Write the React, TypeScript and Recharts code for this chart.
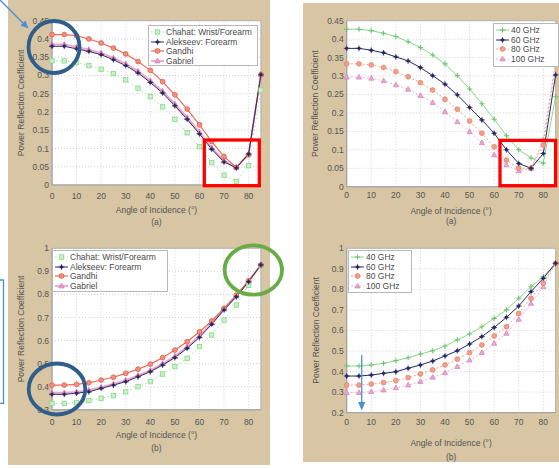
import React from 'react';
import { LineChart, Line, XAxis, YAxis, CartesianGrid, Legend, Label, ReferenceArea } from 'recharts';

const FONT = '"Liberation Sans", Arial, sans-serif';
const BEIGE = '#d7c5a3';
const TXT = '#555';

const angles = [0, 5, 10, 15, 20, 25, 30, 35, 40, 45, 50, 55, 60, 65, 70, 75, 80, 85];
const xTicks = [0, 10, 20, 30, 40, 50, 60, 70, 80];
const yTicksTop = [0, 0.05, 0.1, 0.15, 0.2, 0.25, 0.3, 0.35, 0.4, 0.45];
const yTicksBL = [0.3, 0.4, 0.5, 0.6, 0.7, 0.8, 0.9, 1];
const yTicksBR = [0.2, 0.3, 0.4, 0.5, 0.6, 0.7, 0.8, 0.9, 1];

const tissueNames = ['Chahat: Wrist/Forearm', 'Alekseev: Forearm', 'Gandhi', 'Gabriel'];
const freqNames = ['40 GHz', '60 GHz', '80 GHz', '100 GHz'];

// (a) left: reflection vs angle, tissue models
const chahatA = [0.34, 0.34, 0.336, 0.327, 0.317, 0.305, 0.288, 0.265, 0.242, 0.214, 0.18, 0.143, 0.105, 0.061, 0.027, 0.009, 0.053, 0.26];
const alekseevA = [0.38, 0.38, 0.373, 0.366, 0.357, 0.343, 0.327, 0.307, 0.281, 0.252, 0.217, 0.18, 0.14, 0.098, 0.063, 0.047, 0.085, 0.302];
const gandhiA = [0.412, 0.412, 0.409, 0.4, 0.389, 0.375, 0.359, 0.338, 0.314, 0.283, 0.247, 0.208, 0.165, 0.119, 0.078, 0.048, 0.083, 0.302];
const gabrielA = [0.385, 0.385, 0.378, 0.371, 0.362, 0.348, 0.332, 0.312, 0.286, 0.257, 0.222, 0.185, 0.145, 0.102, 0.066, 0.048, 0.086, 0.303];

// (a) right: reflection vs angle, frequencies
const ghz40A = [0.427, 0.427, 0.423, 0.416, 0.407, 0.393, 0.377, 0.357, 0.333, 0.301, 0.265, 0.225, 0.183, 0.138, 0.1, 0.078, 0.064, 0.244];
const ghz60A = [0.375, 0.375, 0.37, 0.363, 0.352, 0.341, 0.323, 0.301, 0.278, 0.249, 0.215, 0.181, 0.145, 0.1, 0.063, 0.05, 0.09, 0.303];
const ghz80A = [0.333, 0.333, 0.33, 0.323, 0.312, 0.298, 0.282, 0.262, 0.237, 0.21, 0.178, 0.145, 0.108, 0.072, 0.05, 0.05, 0.113, 0.334];
const ghz100A = [0.297, 0.297, 0.294, 0.287, 0.276, 0.264, 0.247, 0.228, 0.203, 0.176, 0.149, 0.119, 0.086, 0.059, 0.043, 0.05, 0.127, 0.343];

// (b) left
const chahatB = [0.328, 0.328, 0.331, 0.34, 0.35, 0.361, 0.378, 0.4, 0.422, 0.455, 0.487, 0.523, 0.574, 0.624, 0.689, 0.754, 0.84, 0.925];
const alekseevB = [0.367, 0.367, 0.372, 0.378, 0.393, 0.407, 0.422, 0.443, 0.465, 0.494, 0.526, 0.567, 0.614, 0.671, 0.733, 0.79, 0.855, 0.928];
const gandhiB = [0.407, 0.407, 0.41, 0.417, 0.429, 0.441, 0.458, 0.476, 0.498, 0.526, 0.559, 0.595, 0.638, 0.685, 0.74, 0.797, 0.86, 0.928];
const gabrielB = [0.374, 0.374, 0.378, 0.385, 0.398, 0.412, 0.428, 0.449, 0.471, 0.5, 0.532, 0.573, 0.62, 0.676, 0.737, 0.793, 0.857, 0.928];

// (b) right
const ghz40B = [0.427, 0.427, 0.432, 0.44, 0.453, 0.467, 0.485, 0.501, 0.524, 0.554, 0.583, 0.618, 0.659, 0.7, 0.757, 0.813, 0.862, 0.927];
const ghz60B = [0.378, 0.378, 0.383, 0.391, 0.399, 0.416, 0.432, 0.451, 0.476, 0.501, 0.534, 0.57, 0.614, 0.664, 0.719, 0.789, 0.854, 0.927];
const ghz80B = [0.334, 0.334, 0.339, 0.346, 0.356, 0.37, 0.388, 0.408, 0.432, 0.46, 0.492, 0.529, 0.573, 0.618, 0.683, 0.757, 0.83, 0.927];
const ghz100B = [0.297, 0.297, 0.302, 0.31, 0.321, 0.334, 0.351, 0.372, 0.394, 0.424, 0.456, 0.492, 0.537, 0.586, 0.654, 0.732, 0.813, 0.927];

type SStyle = {
  key: string;
  stroke: string;
  width: number;
  dash?: string;
  marker: string;
  mFill: string;
  mStroke: string;
};

const tissueStyles: SStyle[] = [
  { key: 's0', stroke: '#a4e2a4', width: 1, dash: '1.5 2.5', marker: 'square', mFill: '#c8f1c8', mStroke: '#8cd78c' },
  { key: 's1', stroke: '#262a66', width: 1, marker: 'star', mFill: '#262a66', mStroke: '#262a66' },
  { key: 's2', stroke: '#ee6a56', width: 1.2, marker: 'circle', mFill: '#f0907e', mStroke: '#e05a46' },
  { key: 's3', stroke: '#f2a3cc', width: 1.8, marker: 'triangle', mFill: '#eca4cd', mStroke: '#d77bb0' },
];
const freqStyles: SStyle[] = [
  { key: 's0', stroke: '#86d886', width: 1, marker: 'plus', mFill: '#7fd07f', mStroke: '#6cc46c' },
  { key: 's1', stroke: '#262a66', width: 1, marker: 'star', mFill: '#262a66', mStroke: '#262a66' },
  { key: 's2', stroke: '#f4a48c', width: 1, dash: '2 2', marker: 'circle', mFill: '#f3a08a', mStroke: '#e8806a' },
  { key: 's3', stroke: '#eeb0d2', width: 1, dash: '2 2', marker: 'triangle', mFill: '#e9a8cf', mStroke: '#d48ab8' },
];

function marker(kind: string, cx: number, cy: number, fill: string, stroke: string, key?: string) {
  if (cx == null || cy == null || isNaN(cx) || isNaN(cy)) return <g key={key} />;
  switch (kind) {
    case 'square':
      return <rect key={key} x={cx - 2.2} y={cy - 2.2} width={4.4} height={4.4} fill={fill} stroke={stroke} strokeWidth={0.8} />;
    case 'circle':
      return <circle key={key} cx={cx} cy={cy} r={2.4} fill={fill} stroke={stroke} strokeWidth={0.8} />;
    case 'triangle':
      return (
        <polygon
          key={key}
          points={`${cx},${cy - 2.8} ${cx + 2.6},${cy + 1.9} ${cx - 2.6},${cy + 1.9}`}
          fill={fill}
          stroke={stroke}
          strokeWidth={0.8}
        />
      );
    case 'star':
      return (
        <g key={key}>
          <circle cx={cx} cy={cy} r={1.7} fill={fill} />
          <path d={`M${cx - 2.9} ${cy}H${cx + 2.9}M${cx} ${cy - 2.9}V${cy + 2.9}`} stroke={stroke} strokeWidth={0.8} />
        </g>
      );
    case 'plus':
    default:
      return (
        <path key={key} d={`M${cx - 2.6} ${cy}H${cx + 2.6}M${cx} ${cy - 2.6}V${cy + 2.6}`} stroke={stroke} strokeWidth={1.1} />
      );
  }
}

function LegendBox({ names, styles, width, height }: { names: string[]; styles: SStyle[]; width: number; height: number }) {
  return (
    <div
      style={{
        background: '#fff',
        border: '1px solid #b8b8b8',
        boxSizing: 'border-box',
        width,
        height,
        padding: '1px 2px',
        fontFamily: FONT,
        fontSize: 8.5,
        color: '#4a4a4a',
        overflow: 'hidden',
      }}
    >
      {names.map((n, i) => {
        const s = styles[i];
        return (
          <div key={n} style={{ display: 'flex', alignItems: 'center', height: 9.7, whiteSpace: 'nowrap' }}>
            <svg width={13} height={8} style={{ flex: 'none' }}>
              <line x1={0} y1={4} x2={13} y2={4} stroke={s.stroke} strokeWidth={s.width} strokeDasharray={s.dash} />
              {marker(s.marker, 6.5, 4, s.mFill, s.mStroke)}
            </svg>
            <span style={{ marginLeft: 2 }}>{n}</span>
          </div>
        );
      })}
    </div>
  );
}

type PanelProps = {
  left: number;
  top: number;
  width: number;
  height: number;
  mTop: number;
  mRight: number;
  yWidth: number;
  xHeight: number;
  yDomain: [number, number];
  yTicks: number[];
  names: string[];
  styles: SStyle[];
  values: number[][];
  order: number[];
  caption: string;
  xTickMargin: number;
  labelOffset: number;
  captionOffset: number;
  yLabelOffset: number;
  legend: { left: number; top: number; width: number; height: number };
};

function Panel(p: PanelProps) {
  const data = angles.map((a, i) => {
    const row: Record<string, number> = { angle: a };
    p.styles.forEach((s, j) => {
      row[s.key] = p.values[j][i];
    });
    return row;
  });
  const tickStyle = { fontSize: 8.5, fill: TXT, fontFamily: FONT };
  const labStyle = { fontSize: 8.5, fill: TXT, fontFamily: FONT };
  return (
    <div style={{ position: 'absolute', left: p.left, top: p.top }}>
      <LineChart
        width={p.width}
        height={p.height}
        data={data}
        margin={{ top: p.mTop, right: p.mRight, bottom: 0, left: 0 }}
      >
        <CartesianGrid fill="#ffffff" stroke="#d2d2d2" strokeDasharray="1 2" />
        <ReferenceArea
          x1={0}
          x2={85}
          y1={p.yDomain[0]}
          y2={p.yDomain[1]}
          fill="none"
          fillOpacity={0}
          stroke="#a8a8a8"
          strokeWidth={0.8}
        />
        <XAxis
          dataKey="angle"
          type="number"
          domain={[0, 85]}
          ticks={xTicks}
          interval={0}
          height={p.xHeight}
          tickLine={false}
          tickSize={0}
          tickMargin={p.xTickMargin}
          axisLine={{ stroke: '#a0a0a0' }}
          tick={tickStyle}
        >
          <Label value="Angle of Incidence (°)" position="insideTop" offset={p.labelOffset} style={labStyle} />
          <Label value={p.caption} position="insideTop" offset={p.captionOffset} style={labStyle} />
        </XAxis>
        <YAxis
          type="number"
          domain={p.yDomain}
          ticks={p.yTicks}
          interval={0}
          width={p.yWidth}
          tickLine={false}
          tickSize={0}
          tickMargin={3}
          axisLine={{ stroke: '#a0a0a0' }}
          tick={tickStyle}
          allowDataOverflow
        >
          <Label
            value="Power Reflection Coefficient"
            angle={-90}
            position="insideLeft"
            offset={p.yLabelOffset}
            style={{ ...labStyle, textAnchor: 'middle' }}
          />
        </YAxis>
        {p.order.map((j) => {
          const s = p.styles[j];
          return (
            <Line
              key={s.key}
              dataKey={s.key}
              name={p.names[j]}
              type="linear"
              stroke={s.stroke}
              strokeWidth={s.width}
              strokeDasharray={s.dash}
              isAnimationActive={false}
              activeDot={false}
              dot={(d: any) => marker(s.marker, d.cx, d.cy, s.mFill, s.mStroke, `${s.key}-${d.index}`)}
            />
          );
        })}
        <Legend
          layout="vertical"
          align="center"
          verticalAlign="middle"
          wrapperStyle={{
            left: p.legend.left,
            top: p.legend.top,
            width: p.legend.width,
            height: p.legend.height,
            right: 'auto',
            bottom: 'auto',
          }}
          content={() => (
            <LegendBox names={p.names} styles={p.styles} width={p.legend.width} height={p.legend.height} />
          )}
        />
      </LineChart>
    </div>
  );
}

function Annotations() {
  const blue = '#4b8fd8';
  const dark = '#2f5d8c';
  return (
    <svg
      width={559}
      height={468}
      style={{ position: 'absolute', left: 0, top: 0, pointerEvents: 'none' }}
    >
      {/* top-left arrow */}
      <line x1={0} y1={0} x2={24} y2={24} stroke={blue} strokeWidth={1.3} />
      <polygon points="28.5,28.5 20.5,25.5 25.5,20.5" fill={blue} />
      {/* circles */}
      <ellipse cx={54} cy={47} rx={25.5} ry={26} fill="none" stroke={dark} strokeWidth={3.8} />
      <ellipse cx={57} cy={389} rx={28.3} ry={25.5} fill="none" stroke={dark} strokeWidth={3.8} />
      <ellipse cx={253.3} cy={270} rx={28.7} ry={24.7} fill="none" stroke="#6aab45" strokeWidth={3.8} />
      {/* red boxes */}
      <rect x={204.3} y={140} width={55} height={45.7} fill="none" stroke="#ff0000" strokeWidth={3.3} />
      <rect x={500} y={140.4} width={55.6} height={45.3} fill="none" stroke="#ff0000" strokeWidth={3.3} />
      {/* left bracket */}
      <path d="M0 280H3.5V403.3H0" fill="none" stroke={blue} strokeWidth={1.3} />
      {/* bottom-right arrow */}
      <line x1={361.7} y1={355} x2={361.7} y2={403} stroke={blue} strokeWidth={1.3} />
      <polygon points="361.7,410.5 358,402 365.4,402" fill={blue} />
    </svg>
  );
}

export default function App() {
  return (
    <div
      style={{
        position: 'absolute',
        left: 0,
        top: 0,
        width: 559,
        height: 468,
        background: '#ffffff',
        overflow: 'hidden',
        fontFamily: FONT,
      }}
    >
      <div style={{ position: 'absolute', left: 8, top: 0, width: 262, height: 465, background: BEIGE }} />
      <div style={{ position: 'absolute', left: 303, top: 3, width: 256, height: 459, background: BEIGE }} />

      <Panel
        left={8}
        top={0}
        width={262}
        height={230}
        mTop={20.7}
        mRight={9.1}
        yWidth={44}
        xHeight={45}
        yDomain={[0, 0.45]}
        yTicks={yTicksTop}
        names={tissueNames}
        styles={tissueStyles}
        values={[chahatA, alekseevA, gandhiA, gabrielA]}
        order={[3, 0, 2, 1]}
        caption="(a)"
        xTickMargin={7.5}
        labelOffset={22}
        captionOffset={34}
        yLabelOffset={13}
        legend={{ left: 140, top: 25, width: 110, height: 41 }}
      />
      <Panel
        left={303}
        top={0}
        width={256}
        height={230}
        mTop={20.7}
        mRight={3.4}
        yWidth={43.7}
        xHeight={43.3}
        yDomain={[0, 0.45]}
        yTicks={yTicksTop}
        names={freqNames}
        styles={freqStyles}
        values={[ghz40A, ghz60A, ghz80A, ghz100A]}
        order={[3, 2, 0, 1]}
        caption="(a)"
        xTickMargin={5}
        labelOffset={21}
        captionOffset={31}
        yLabelOffset={12}
        legend={{ left: 190, top: 23, width: 66, height: 44 }}
      />
      <Panel
        left={8}
        top={230}
        width={262}
        height={238}
        mTop={18.3}
        mRight={9.1}
        yWidth={44}
        xHeight={58.2}
        yDomain={[0.3, 1]}
        yTicks={yTicksBL}
        names={tissueNames}
        styles={tissueStyles}
        values={[chahatB, alekseevB, gandhiB, gabrielB]}
        order={[3, 0, 2, 1]}
        caption="(b)"
        xTickMargin={9}
        labelOffset={22}
        captionOffset={35}
        yLabelOffset={13}
        legend={{ left: 44, top: 20, width: 116, height: 42 }}
      />
      <Panel
        left={303}
        top={230}
        width={256}
        height={238}
        mTop={18.3}
        mRight={3.4}
        yWidth={43.7}
        xHeight={55.4}
        yDomain={[0.2, 1]}
        yTicks={yTicksBR}
        names={freqNames}
        styles={freqStyles}
        values={[ghz40B, ghz60B, ghz80B, ghz100B]}
        order={[3, 2, 0, 1]}
        caption="(b)"
        xTickMargin={6}
        labelOffset={27}
        captionOffset={41}
        yLabelOffset={13}
        legend={{ left: 45, top: 20, width: 64, height: 43 }}
      />
      <Annotations />
    </div>
  );
}
